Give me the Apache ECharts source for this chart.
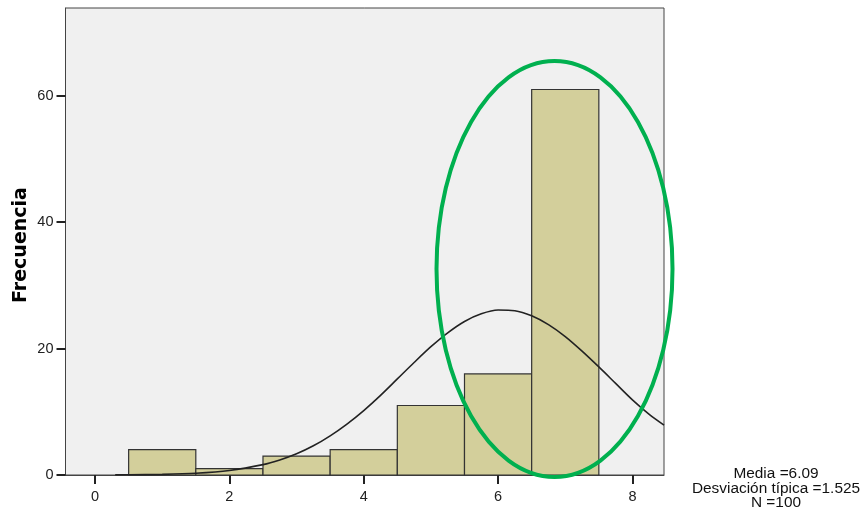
<!DOCTYPE html>
<html>
<head>
<meta charset="utf-8">
<script src="https://cdn.jsdelivr.net/npm/echarts@6/dist/echarts.min.js"></script>
<style>
  html, body { margin: 0; padding: 0; background: #fff; }
  #chart { width: 864px; height: 510px; }
</style>
</head>
<body>
<div id="chart"></div>
<script>
// histogram bins (start, end) and frequencies
var binStart = [0.5, 1.5, 2.5, 3.5, 4.5, 5.5, 6.5];
var binEnd   = [1.5, 2.5, 3.5, 4.5, 5.5, 6.5, 7.5];
var counts   = [4, 1, 3, 4, 11, 16, 61];

// normal curve
var curveX = [0.3, 0.5, 1, 1.5, 2, 2.5, 2.75, 3, 3.25, 3.5, 3.75, 4, 4.25, 4.5, 4.75, 5, 5.25, 5.5, 5.75,
              6, 6.25, 6.5, 6.75, 7, 7.25, 7.5, 7.75, 8, 8.25, 8.47];
var curveY = [0.02, 0.03, 0.1, 0.28, 0.72, 1.64, 2.38, 3.36, 4.62, 6.2, 8.06, 10.2, 12.6, 15.2, 17.8, 20.3, 22.5, 24.3, 25.5,
              26.1, 26.0, 25.2, 23.8, 21.9, 19.6, 17.1, 14.5, 11.9, 9.6, 7.9];

var xTicks = [0, 2, 4, 6, 8];
var yTicks = [0, 20, 40, 60];

var statLines = ['Media =6.09', 'Desviación típica =1.525', 'N =100'];

var chart = echarts.init(document.getElementById('chart'));

var bars = binStart.map(function (s, i) { return [s, binEnd[i], counts[i]]; });
var curve = curveX.map(function (x, i) { return [x, curveY[i]]; });

var option = {
    backgroundColor: '#ffffff',
    animation: false,
    grid: {
        left: 65.5, right: 200, top: 8, bottom: 35,
        show: true,
        backgroundColor: '#f0f0f0',
        borderColor: '#444',
        borderWidth: 1
    },
    xAxis: {
        type: 'value',
        min: -0.44,
        max: 8.47,
        axisLine: { show: true, onZero: false, lineStyle: { color: '#444', width: 1 } },
        axisTick: { show: true, inside: false, customValues: xTicks, length: 9, lineStyle: { color: '#222', width: 2 } },
        axisLabel: {
            customValues: xTicks, margin: 14,
            color: '#222', fontSize: 14.5, fontFamily: 'Liberation Sans'
        },
        splitLine: { show: false }
    },
    yAxis: {
        type: 'value',
        min: 0,
        max: 73.9,
        axisLine: { show: true, onZero: false, lineStyle: { color: '#444', width: 1 } },
        axisTick: { show: true, inside: false, customValues: yTicks, length: 9, lineStyle: { color: '#222', width: 2 } },
        axisLabel: {
            customValues: yTicks, margin: 12,
            color: '#222', fontSize: 14.5, fontFamily: 'Liberation Sans'
        },
        splitLine: { show: false }
    },
    series: [{
        type: 'custom',
        data: bars,
        renderItem: function (params, api) {
            var p0 = api.coord([api.value(0), api.value(2)]);
            var p1 = api.coord([api.value(1), 0]);
            return {
                type: 'rect',
                shape: { x: p0[0], y: p0[1], width: p1[0] - p0[0], height: p1[1] - p0[1] },
                style: { fill: '#d3cf9b', stroke: '#333', lineWidth: 1.2 }
            };
        },
        z: 2
    }, {
        type: 'line',
        data: curve,
        smooth: 0.3,
        showSymbol: false,
        lineStyle: { color: '#222', width: 1.6 },
        z: 3
    }]
};

chart.setOption(option);

// green ellipse annotation, centred in data space
var c = chart.convertToPixel({ gridIndex: 0 }, [6.84, 32.6]);
var graphics = [{
    type: 'ellipse',
    shape: { cx: c[0], cy: c[1], rx: 118, ry: 208 },
    style: { fill: null, stroke: '#00b04f', lineWidth: 4 },
    z: 10
}, {
    type: 'text',
    x: 21, y: 245,
    rotation: Math.PI / 2,
    style: {
        text: 'Frecuencia', fill: '#000',
        font: 'bold 19px "DejaVu Sans"',
        align: 'center', verticalAlign: 'middle'
    }
}];
statLines.forEach(function (t, i) {
    graphics.push({
        type: 'text',
        x: 776, y: 474 + i * 14.5,
        style: {
            text: t, fill: '#111',
            font: '15.4px "Liberation Sans"',
            align: 'center', verticalAlign: 'middle'
        }
    });
});
chart.setOption({ graphic: graphics });
</script>
</body>
</html>
